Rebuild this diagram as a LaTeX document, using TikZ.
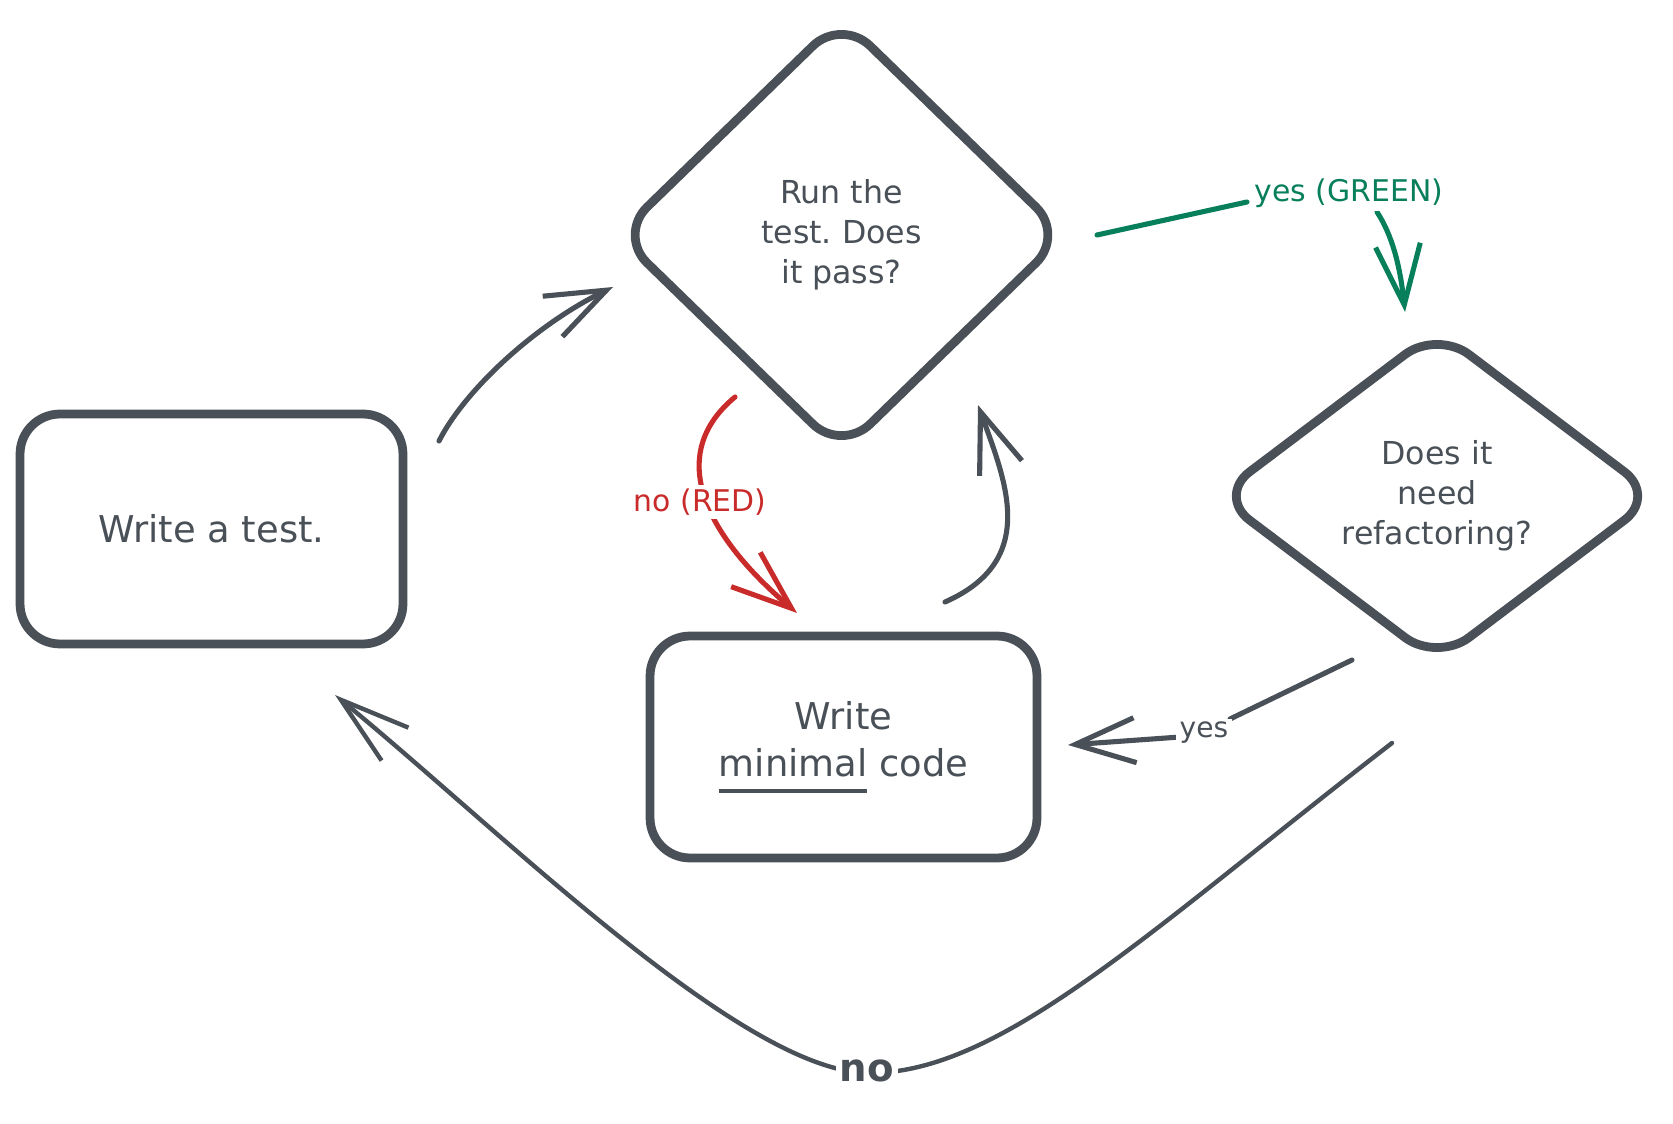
\documentclass[tikz,border=0pt]{standalone}
\usepackage{fontspec}
\setmainfont{DejaVu Sans}
\usetikzlibrary{arrows.meta,shapes.geometric}
\definecolor{ink}{HTML}{495057}
\definecolor{redink}{HTML}{C92A2A}
\definecolor{greenink}{HTML}{087F5B}
\newsavebox{\ulbox}
\newcommand{\ulword}[1]{\sbox{\ulbox}{#1}\rlap{\rule[-9pt]{\wd\ulbox}{1.8pt}}\usebox{\ulbox}}
\frenchspacing
\begin{document}
\begin{tikzpicture}[x=0.02cm, y=-0.02cm,
  box/.style={draw=ink, line width=5pt, rounded corners=0.8cm, text=ink,
    font=\fontsize{21}{27}\selectfont, align=center, inner sep=0pt},
  dia/.style={shape=diamond, draw=ink, line width=5pt, rounded corners=0.8cm,
    text=ink, font=\fontsize{18}{22.8}\selectfont, align=center, inner sep=0pt},
  conn/.style={draw=ink, line width=2.9pt, line cap=round, line join=round,
    -{Straight Barb[length=1.2cm,width=0.9cm]}},
  lab/.style={fill=white, inner sep=2pt, font=\fontsize{17}{20}\selectfont}]
\useasboundingbox[fill=white] (0,0) rectangle (1673,1124);

% shapes
\node[box, minimum width=7.66cm, minimum height=4.6cm] (b1) at (211.5,529) {Write a test.};
\node[box, minimum width=7.74cm, minimum height=4.44cm] (b2) at (843.5,747) {Write\\\ulword{minimal} code};
\node[dia, minimum width=9.0cm, minimum height=8.75cm] (d1) at (841.5,235) {Run the\\test. Does\\it pass?};
\node[dia, aspect=1.33, minimum width=8.85cm, minimum height=6.7cm] (d2) at (1437,496) {Does it\\need\\refactoring?};

% connector end points
\coordinate (c1s) at (439,441);   \coordinate (c1e) at (613,287);
\coordinate (c2s) at (735,397);   \coordinate (c2e) at (797,613);
\coordinate (c3s) at (945,602);   \coordinate (c3e) at (978,405);
\coordinate (c4s) at (1097,235);  \coordinate (c4a) at (1247,202);
\coordinate (c4b) at (1377,212);  \coordinate (c4e) at (1405,312);
\coordinate (c5s) at (1352,660);  \coordinate (c5a) at (1230,719);
\coordinate (c5b) at (1180,737);  \coordinate (c5e) at (1068,745);
\coordinate (c6s) at (1392,743);  \coordinate (c6m) at (867,1073);
\coordinate (c6e) at (335,695);

% write a test -> run the test
\draw[conn] (c1s) .. controls (465,390) and (535,325) .. (c1e);
% run the test -> write minimal code (no)
\draw[conn, draw=redink] (c2s) .. controls (665,455) and (705,535) .. (c2e);
\node[lab, text=redink] (nored) at (700,502) {no (RED)};
% write minimal code -> run the test
\draw[conn] (c3s) .. controls (1040,560) and (1005,480) .. (c3e);
% run the test -> refactoring? (yes)
\draw[conn, draw=greenink] (c4s) -- (c4a) (c4b) .. controls (1392,235) and (1400,265) .. (c4e);
\node[lab, text=greenink] (yesgreen) at (1349,193) {yes (GREEN)};
% refactoring? -> write minimal code (yes)
\draw[conn] (c5s) -- (c5a) (c5b) -- (c5e);
\node[lab, text=ink, font=\fontsize{16}{19}\selectfont] (yes) at (1204,733) {yes};
% refactoring? -> write a test (no)
\draw[conn, line width=2.5pt, -{Straight Barb[length=1.4cm,width=0.85cm]}]
  (c6s) .. controls (1150,930) and (1000,1075) .. (c6m)
        .. controls (740,1070) and (500,830) .. (c6e);
\node[lab, text=ink, font=\fontsize{22}{26}\selectfont\bfseries] (no) at (867,1071) {no};
\end{tikzpicture}
\end{document}
